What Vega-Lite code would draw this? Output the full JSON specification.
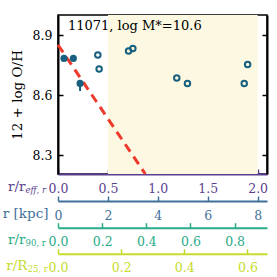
{
  "$schema": "https://vega.github.io/schema/vega-lite/v6.json",
  "width": 209,
  "height": 159,
  "autosize": {"type": "none"},
  "padding": {"left": 58, "top": 15, "right": 10, "bottom": 103},
  "config": {
    "view": {"stroke": "black", "strokeWidth": 1.5},
    "font": "DejaVu Serif",
    "axis": {"grid": false, "labelFont": "DejaVu Serif", "titleFont": "DejaVu Serif", "labelFlush": false, "labelFontSize": 12.5, "titleFontSize": 13.5, "titleFontWeight": "normal", "labelOverlap": false}
  },
  "datasets": {
    "pts": [
      {"r": 0.06, "oh": 8.783, "kind": "inner"},
      {"r": 0.154, "oh": 8.783, "kind": "inner"},
      {"r": 0.221, "oh": 8.658, "kind": "inner"},
      {"r": 0.399, "oh": 8.80, "kind": "outer"},
      {"r": 0.412, "oh": 8.73, "kind": "outer"},
      {"r": 0.707, "oh": 8.82, "kind": "outer"},
      {"r": 0.75, "oh": 8.833, "kind": "outer"},
      {"r": 1.19, "oh": 8.685, "kind": "outer"},
      {"r": 1.297, "oh": 8.657, "kind": "outer"},
      {"r": 1.866, "oh": 8.658, "kind": "outer"},
      {"r": 1.9, "oh": 8.753, "kind": "outer"}
    ]
  },
  "layer": [
    {
      "layer": [
        {
          "data": {"values": [{"r": 0.5, "r2": 2.0, "top": 9.0, "bot": 8.205}]},
          "mark": {"type": "rect", "color": "#fdf8e1"},
          "encoding": {
            "x": {"field": "r", "type": "quantitative", "title": "r/r",
              "scale": {"domain": [0, 2.094], "nice": false, "zero": false},
              "axis": {"orient": "bottom", "values": [0, 0.5, 1.0, 1.5, 2.0], "format": ".1f",
                "domainColor": "#5b3f8f", "domainWidth": 2, "tickColor": "#5b3f8f", "tickWidth": 1.5, "tickSize": -5,
                "labelColor": "#5b3f8f", "labelPadding": 13, "titleColor": "#5b3f8f",
                "titleX": -33, "titleY": 12, "titleAlign": "right", "titleBaseline": "middle", "titleAnchor": null}},
            "x2": {"field": "r2"},
            "y": {"field": "top", "type": "quantitative", "title": "12 + log O/H",
              "scale": {"domain": [8.205, 9.0], "nice": false, "zero": false},
              "axis": {"orient": "left", "values": [8.3, 8.6, 8.9], "format": ".1f",
                "domainColor": "black", "domainWidth": 2, "tickColor": "black", "tickWidth": 1.5, "tickSize": -5,
                "labelColor": "black", "labelPadding": 11, "titleColor": "black", "titlePadding": 8}},
            "y2": {"field": "bot"}
          }
        },
        {
          "data": {"values": [{"r": 0, "oh": 8.851}, {"r": 0.875, "oh": 8.205}]},
          "mark": {"type": "line", "color": "#ee3a2c", "strokeWidth": 3, "strokeDash": [9, 6]},
          "encoding": {
            "x": {"field": "r", "type": "quantitative", "title": "r/r"},
            "y": {"field": "oh", "type": "quantitative", "title": "12 + log O/H"}
          }
        },
        {
          "data": {"values": [{"r": 0.221, "lo": 8.62, "hi": 8.658}]},
          "mark": {"type": "rule", "color": "#17607f", "strokeWidth": 2},
          "encoding": {
            "x": {"field": "r", "type": "quantitative", "title": "r/r"},
            "y": {"field": "lo", "type": "quantitative", "title": "12 + log O/H"},
            "y2": {"field": "hi"}
          }
        },
        {
          "data": {"name": "pts"},
          "transform": [{"filter": "datum.kind == 'inner'"}],
          "mark": {"type": "point", "filled": true, "color": "#17607f", "size": 50, "opacity": 1},
          "encoding": {
            "x": {"field": "r", "type": "quantitative", "title": "r/r"},
            "y": {"field": "oh", "type": "quantitative", "title": "12 + log O/H"}
          }
        },
        {
          "data": {"name": "pts"},
          "transform": [{"filter": "datum.kind == 'outer'"}],
          "mark": {"type": "point", "filled": false, "color": "#17607f", "size": 30, "strokeWidth": 2, "opacity": 1},
          "encoding": {
            "x": {"field": "r", "type": "quantitative", "title": "r/r"},
            "y": {"field": "oh", "type": "quantitative", "title": "12 + log O/H"}
          }
        },
        {
          "data": {"values": [{"r": 0.1, "oh": 8.943, "label": "11071, log M*=10.6"}]},
          "mark": {"type": "text", "align": "left", "baseline": "middle", "fontSize": 13, "font": "DejaVu Serif", "color": "black"},
          "encoding": {
            "x": {"field": "r", "type": "quantitative", "title": "r/r"},
            "y": {"field": "oh", "type": "quantitative", "title": "12 + log O/H"},
            "text": {"field": "label"}
          }
        }
      ]
    },
    {
      "data": {"values": [{"oh": 8.6}]},
      "mark": {"type": "point", "opacity": 0},
      "encoding": {
        "y": {"field": "oh", "type": "quantitative", "title": null,
          "axis": {"orient": "right", "values": [8.3, 8.6, 8.9], "labels": false,
            "domainColor": "black", "domainWidth": 2, "tickColor": "black", "tickWidth": 1.5, "tickSize": -5}}
      }
    },
    {
      "data": {"values": [{"v": 0}]},
      "mark": {"type": "point", "opacity": 0},
      "encoding": {
        "x": {"field": "v", "type": "quantitative", "title": "r [kpc]",
          "scale": {"domain": [0, 8.376], "nice": false, "zero": false},
          "axis": {"orient": "bottom", "offset": 27, "values": [0, 2, 4, 6, 8], "format": "d",
            "domainColor": "#41709a", "domainWidth": 2, "tickColor": "#41709a", "tickWidth": 1.5, "tickSize": -5,
            "labelColor": "#41709a", "labelPadding": 13, "titleColor": "#41709a",
            "titleX": -10, "titleY": 12, "titleAlign": "right", "titleBaseline": "middle"}}
      }
    },
    {
      "data": {"values": [{"v": 0}]},
      "mark": {"type": "point", "opacity": 0},
      "encoding": {
        "x": {"field": "v", "type": "quantitative", "title": "r/r",
          "scale": {"domain": [0, 0.9466], "nice": false, "zero": false},
          "axis": {"orient": "bottom", "offset": 53.7, "values": [0, 0.2, 0.4, 0.6, 0.8], "format": ".1f",
            "domainColor": "#2aab88", "domainWidth": 2, "tickColor": "#2aab88", "tickWidth": 1.5, "tickSize": -5,
            "labelColor": "#2aab88", "labelPadding": 13, "titleColor": "#2aab88",
            "titleX": -33, "titleY": 12, "titleAlign": "right", "titleBaseline": "middle"}}
      }
    },
    {
      "data": {"values": [{"v": 0}]},
      "mark": {"type": "point", "opacity": 0},
      "encoding": {
        "x": {"field": "v", "type": "quantitative", "title": "r/R",
          "scale": {"domain": [0, 0.662], "nice": false, "zero": false},
          "axis": {"orient": "bottom", "offset": 79.7, "values": [0, 0.2, 0.4, 0.6], "format": ".1f",
            "domainColor": "#c6dc2c", "domainWidth": 2, "tickColor": "#c6dc2c", "tickWidth": 1.5, "tickSize": -5,
            "labelColor": "#c6dc2c", "labelPadding": 13, "titleColor": "#c6dc2c",
            "titleX": -31, "titleY": 12, "titleAlign": "right", "titleBaseline": "middle"}}
      }
    },
    {
      "data": {"values": [{"v": 0}]},
      "mark": {"type": "point", "opacity": 0},
      "encoding": {
        "x": {"field": "v", "type": "quantitative", "title": "eff, r",
          "scale": {"domain": [0, 2.094], "nice": false, "zero": false},
          "axis": {"orient": "bottom", "offset": 0, "domain": false, "ticks": false, "labels": false,
            "titleColor": "#5b3f8f", "titleFontStyle": "italic", "titleFontSize": 8.5,
            "titleX": -33, "titleY": 15, "titleAlign": "left", "titleBaseline": "middle"}}
      }
    },
    {
      "data": {"values": [{"v": 0}]},
      "mark": {"type": "point", "opacity": 0},
      "encoding": {
        "x": {"field": "v", "type": "quantitative", "title": "90, r",
          "scale": {"domain": [0, 0.9466], "nice": false, "zero": false},
          "axis": {"orient": "bottom", "offset": 53.7, "domain": false, "ticks": false, "labels": false,
            "titleColor": "#2aab88", "titleFontStyle": "normal", "titleFontSize": 8.5,
            "titleX": -33, "titleY": 15, "titleAlign": "left", "titleBaseline": "middle"}}
      }
    },
    {
      "data": {"values": [{"v": 0}]},
      "mark": {"type": "point", "opacity": 0},
      "encoding": {
        "x": {"field": "v", "type": "quantitative", "title": "25, r",
          "scale": {"domain": [0, 0.662], "nice": false, "zero": false},
          "axis": {"orient": "bottom", "offset": 79.7, "domain": false, "ticks": false, "labels": false,
            "titleColor": "#c6dc2c", "titleFontStyle": "normal", "titleFontSize": 8.5,
            "titleX": -31, "titleY": 15, "titleAlign": "left", "titleBaseline": "middle"}}
      }
    }
  ],
  "resolve": {"scale": {"x": "independent"}, "axis": {"x": "independent", "y": "independent"}}
}
